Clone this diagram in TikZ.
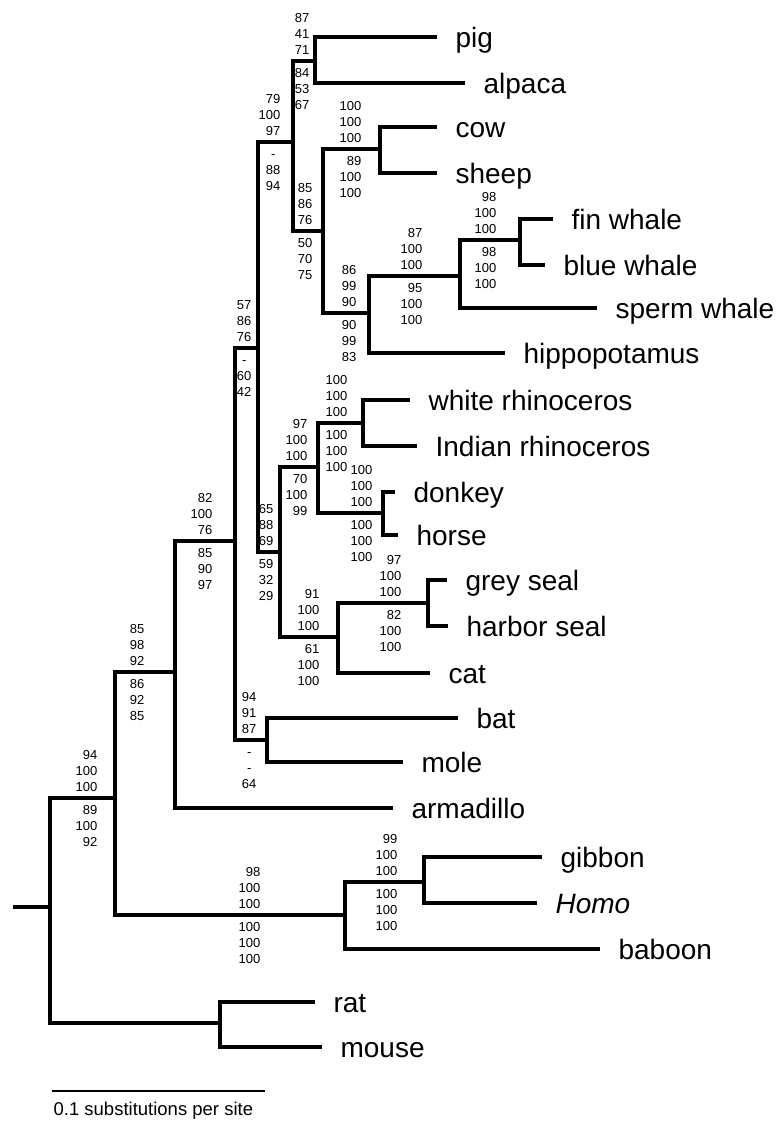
\documentclass[tikz,border=0pt]{standalone}
\usepackage{fontspec}
\setmainfont{Liberation Sans}
\def\nd{\makebox[1.11em]{-}\vphantom{0}}

\begin{document}
\begin{tikzpicture}[x=1pt, y=-1pt, line width=3.2pt,
  leaf/.style={anchor=west, inner xsep=17pt, inner ysep=0pt, text height=24pt, text depth=4pt, font=\fontsize{28}{30}\selectfont},
  bsup/.style={anchor=south east, inner sep=0pt, align=right, font=\fontsize{13}{16}\selectfont},
  bsdn/.style={anchor=north east, inner sep=0pt, align=right, font=\fontsize{13}{16}\selectfont}]
\path[fill=white, use as bounding box] (0,0) rectangle (778,1122);
% leaves
\node[leaf] (pig) at (437,37) {pig};
\node[leaf] (alpaca) at (465,83) {alpaca};
\node[leaf] (cow) at (437,127) {cow};
\node[leaf] (sheep) at (437,173) {sheep};
\node[leaf] (fin) at (553,219) {fin whale};
\node[leaf] (blue) at (545,265) {blue whale};
\node[leaf] (sperm) at (597,308) {sperm whale};
\node[leaf] (hippo) at (505,353) {hippopotamus};
\node[leaf] (white) at (410,400) {white rhinoceros};
\node[leaf] (indian) at (417,446) {Indian rhinoceros};
\node[leaf] (donkey) at (395,492) {donkey};
\node[leaf] (horse) at (398,535) {horse};
\node[leaf] (grey) at (447,580) {grey seal};
\node[leaf] (harbor) at (448,626) {harbor seal};
\node[leaf] (cat) at (430,673) {cat};
\node[leaf] (bat) at (458,718) {bat};
\node[leaf] (mole) at (403,762) {mole};
\node[leaf] (armadillo) at (393,808) {armadillo};
\node[leaf] (gibbon) at (542,857) {gibbon};
\node[leaf] (homo) at (537,903) {\textit{Homo}};
\node[leaf] (baboon) at (600,949) {baboon};
\node[leaf] (rat) at (315,1002) {rat};
\node[leaf] (mouse) at (322,1047) {mouse};
% inner nodes
\coordinate (root) at (13,907);
\coordinate (base) at (50,907);
\coordinate (euth) at (115,798);
\coordinate (rodent) at (220,1023);
\coordinate (primate) at (345,915);
\coordinate (hominoid) at (424,882);
\coordinate (boreo) at (175,672);
\coordinate (laur) at (235,541);
\coordinate (chiro) at (267,740);
\coordinate (ungul) at (258,348);
\coordinate (artio) at (293,142);
\coordinate (pigalp) at (315,61);
\coordinate (cetrum) at (323,231);
\coordinate (bovid) at (380,149);
\coordinate (whippo) at (369,313);
\coordinate (whale) at (460,276);
\coordinate (rorq) at (520,240);
\coordinate (pericarn) at (280,552);
\coordinate (periss) at (318,467);
\coordinate (rhino) at (363,423);
\coordinate (equid) at (383,513);
\coordinate (carniv) at (338,637);
\coordinate (seal) at (428,603);
% branches
\draw (root) -- (base);
\draw (euth) -| (base) |- (rodent);
\draw (boreo) -| (euth) |- (primate);
\draw (laur) -| (boreo) |- (armadillo);
\draw (ungul) -| (laur) |- (chiro);
\draw (artio) -| (ungul) |- (pericarn);
\draw (pigalp) -| (artio) |- (cetrum);
\draw (pig) -| (pigalp) |- (alpaca);
\draw (bovid) -| (cetrum) |- (whippo);
\draw (cow) -| (bovid) |- (sheep);
\draw (whale) -| (whippo) |- (hippo);
\draw (rorq) -| (whale) |- (sperm);
\draw (fin) -| (rorq) |- (blue);
\draw (periss) -| (pericarn) |- (carniv);
\draw (rhino) -| (periss) |- (equid);
\draw (white) -| (rhino) |- (indian);
\draw (donkey) -| (equid) |- (horse);
\draw (seal) -| (carniv) |- (cat);
\draw (grey) -| (seal) |- (harbor);
\draw (bat) -| (chiro) |- (mole);
\draw (hominoid) -| (primate) |- (baboon);
\draw (gibbon) -| (hominoid) |- (homo);
\draw (rat) -| (rodent) |- (mouse);
% bootstrap values
\foreach \bx/\by/\ab/\bl [count=\i] in {
  311/61/{87\\41\\71}/{84\\53\\67},
  282/142/{79\\100\\97}/{\nd\\88\\94},
  314/231/{85\\86\\76}/{50\\70\\75},
  363/149/{100\\100\\100}/{89\\100\\100},
  358/313/{86\\99\\90}/{90\\99\\83},
  424/276/{87\\100\\100}/{95\\100\\100},
  498/240/{98\\100\\100}/{98\\100\\100},
  253/348/{57\\86\\76}/{\nd\\60\\42},
  275/552/{65\\88\\69}/{59\\32\\29},
  309/467/{97\\100\\100}/{70\\100\\99},
  349/423/{100\\100\\100}/{100\\100\\100},
  374/513/{100\\100\\100}/{100\\100\\100},
  321/637/{91\\100\\100}/{61\\100\\100},
  403/603/{97\\100\\100}/{82\\100\\100},
  258/740/{94\\91\\87}/{\nd\\\nd\\64},
  214/541/{82\\100\\76}/{85\\90\\97},
  146/672/{85\\98\\92}/{86\\92\\85},
  99/798/{94\\100\\100}/{89\\100\\92},
  262/915/{98\\100\\100}/{100\\100\\100},
  399/882/{99\\100\\100}/{100\\100\\100}}{
  \node[bsup] (bsa\i) at (\bx,\by-4.5) {\ab};
  \node[bsdn] (bsb\i) at (\bx,\by+5.5) {\bl};
}
% scale bar
\coordinate (sbl) at (52,1091);
\coordinate (sbr) at (265,1091);
\draw[line width=2pt] (sbl) -- (sbr);
\node[anchor=base west, inner sep=0pt, font=\fontsize{18.5}{20}\selectfont] (sbt) at (52,1115) {0.1 substitutions per site};
\end{tikzpicture}
\end{document}
